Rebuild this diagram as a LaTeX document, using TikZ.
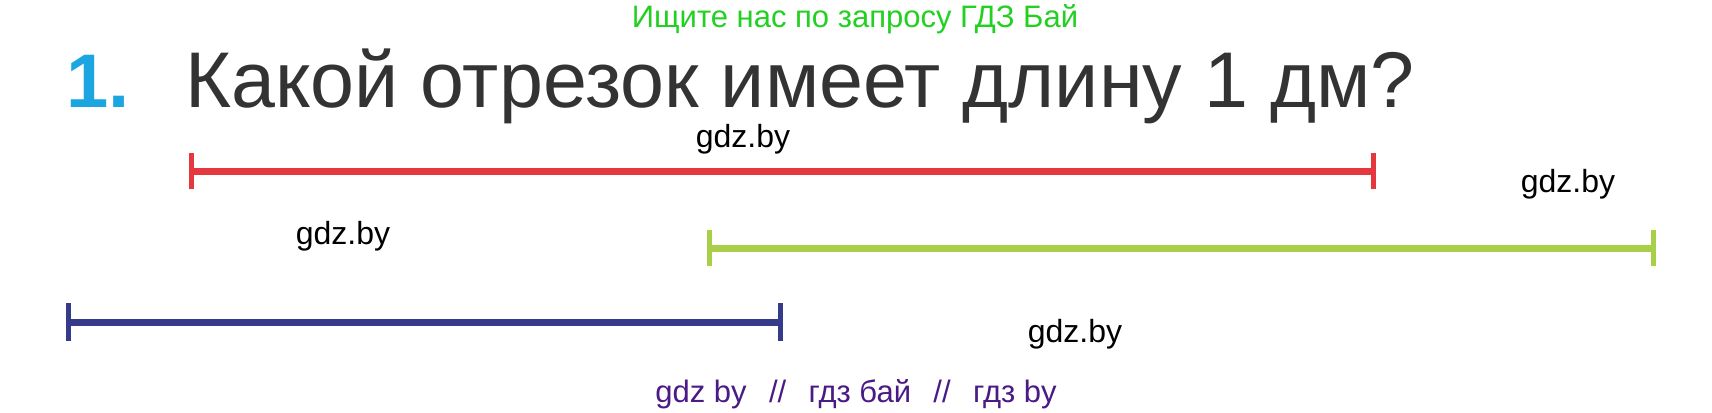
\documentclass[tikz,border=0pt]{standalone}
\usepackage{fontspec}
\setmainfont{Liberation Sans}
\definecolor{segred}{HTML}{E5383E}
\definecolor{seggreen}{HTML}{A9CF48}
\definecolor{segblue}{HTML}{363A8A}
\definecolor{headgreen}{HTML}{22D022}
\definecolor{numcyan}{HTML}{1BA6E2}
\definecolor{titlegray}{HTML}{333333}
\definecolor{markpurple}{HTML}{4A1A85}
\tikzset{
  segline/.style={line width=7pt},
  endtick/.style={line width=5pt},
  wmark/.style={inner sep=0pt, anchor=base, font=\fontsize{32}{32}\selectfont}
}
\begin{document}
\begin{tikzpicture}[x=1pt,y=-1pt]
  \useasboundingbox (0,0) rectangle (1712,412);

  % header and question
  \node[inner sep=0pt, anchor=base, text=headgreen, font=\fontsize{31}{31}\selectfont] (head) at (855,28) {Ищите нас по запросу ГДЗ Бай};
  \node[inner sep=0pt, anchor=base west, text=numcyan, font=\fontsize{76}{76}\selectfont\bfseries] (num) at (66,107) {1.};
  \node[inner sep=0pt, anchor=base west, text=titlegray, font=\fontsize{79}{79}\selectfont] (question) at (185,107) {Какой отрезок имеет длину 1 дм?};

  % segment ends
  \coordinate (redA) at (191,171);
  \coordinate (redB) at (1373,171);
  \coordinate (greenA) at (709,248);
  \coordinate (greenB) at (1653,248);
  \coordinate (blueA) at (68,322);
  \coordinate (blueB) at (780,322);

  \draw[segline, segred] (redA) -- (redB);
  \draw[endtick, segred] ([yshift=-18pt]redA) -- ([yshift=18pt]redA);
  \draw[endtick, segred] ([yshift=-18pt]redB) -- ([yshift=18pt]redB);

  \draw[segline, seggreen] (greenA) -- (greenB);
  \draw[endtick, seggreen] ([yshift=-18pt]greenA) -- ([yshift=18pt]greenA);
  \draw[endtick, seggreen] ([yshift=-18pt]greenB) -- ([yshift=18pt]greenB);

  \draw[segline, segblue] (blueA) -- (blueB);
  \draw[endtick, segblue] ([yshift=-19pt]blueA) -- ([yshift=19pt]blueA);
  \draw[endtick, segblue] ([yshift=-19pt]blueB) -- ([yshift=19pt]blueB);

  % watermarks
  \node[wmark] (mark1) at (743,147) {gdz.by};
  \node[wmark] (mark2) at (1568,192) {gdz.by};
  \node[wmark] (mark3) at (343,244) {gdz.by};
  \node[wmark] (mark4) at (1075,342) {gdz.by};
  \node[inner sep=0pt, anchor=base, text=markpurple, font=\fontsize{31}{31}\selectfont] (foot) at (856,402) {gdz by~~\,//~~\,гдз бай~~\,//~~\,гдз by};
\end{tikzpicture}
\end{document}
